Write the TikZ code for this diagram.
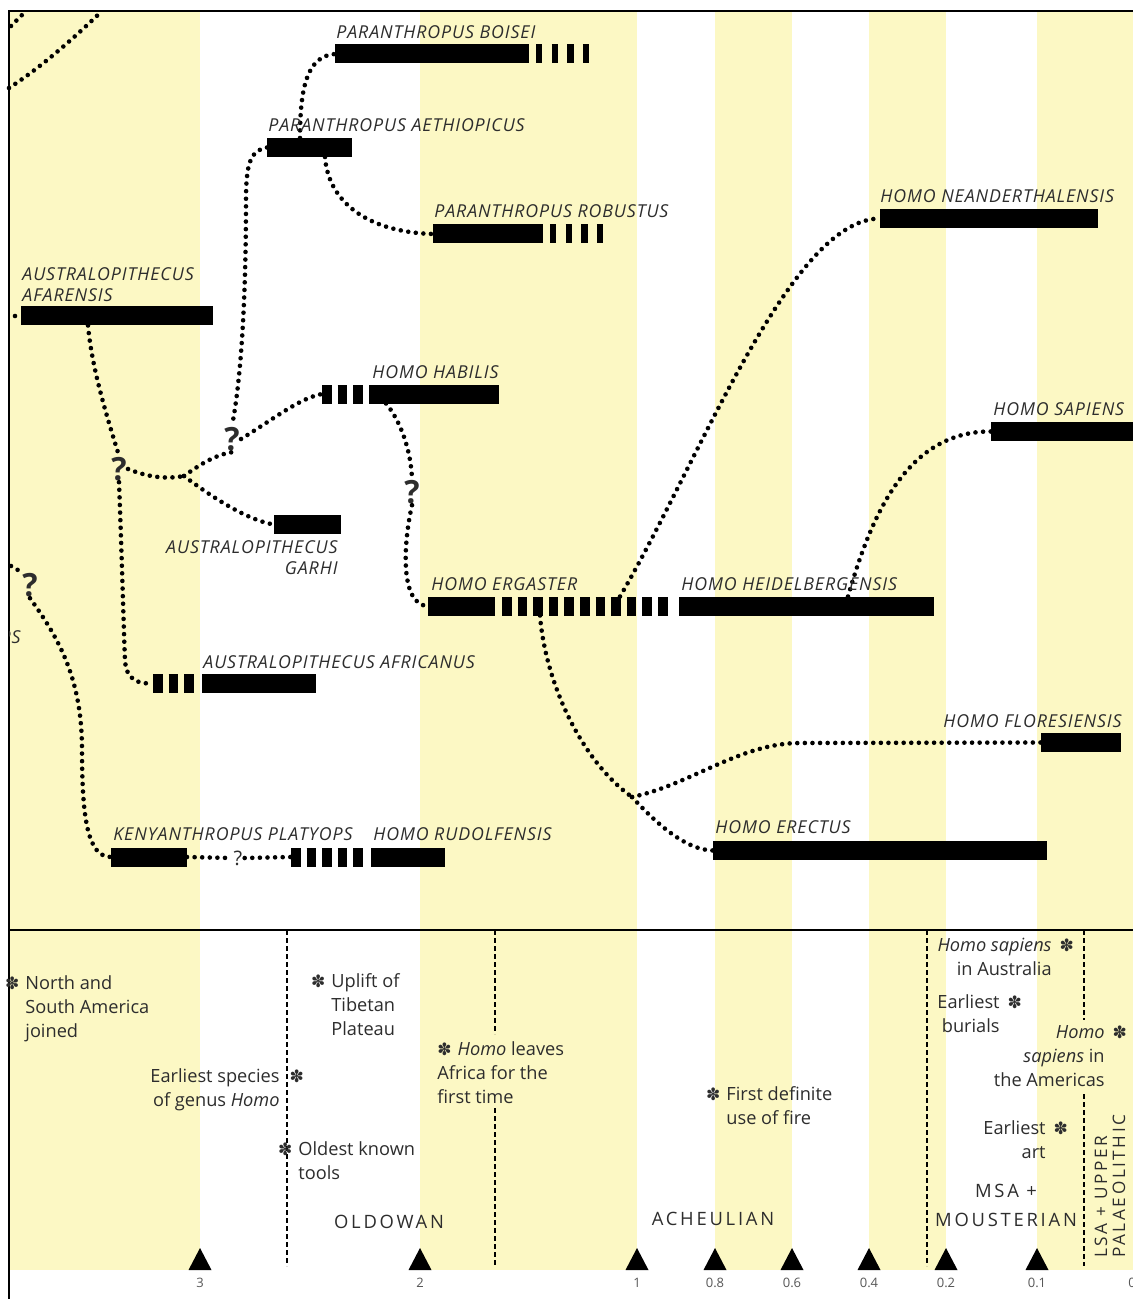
\documentclass[tikz,border=0pt]{standalone}
\usepackage{fontspec}
\setmainfont{Open Sans}
\newfontfamily\symfont{DejaVu Sans}
\newfontfamily\spacedfont[LetterSpace=15]{Open Sans}
\newfontfamily\lblfont[LetterSpace=5]{Open Sans}
\usetikzlibrary{calc}
\definecolor{bandyellow}{RGB}{252,248,196}
\definecolor{ink}{RGB}{45,45,45}
\newcommand{\astk}{{\symfont\fontsize{8.5}{8.5}\selectfont\textcolor{ink}{✽}}}

\begin{document}
\begin{tikzpicture}[x=0.5pt, y=-0.5pt,
    bar/.style={fill=black, inner sep=0pt, outer sep=0pt, minimum height=9.5pt, minimum width=#1*0.5pt, anchor=west},
    fuzz/.style={line width=9.5pt, dash pattern=on 4.8pt off 3pt},
    thinfuzz/.style={line width=9.5pt, dash pattern=on 3.2pt off 4.6pt},
    dots/.style={line width=2.3pt, line cap=round, dash pattern=on 0pt off 3.8pt},
    lbl/.style={font=\lblfont\itshape\fontsize{8.9}{10.5}\selectfont, text=ink, inner sep=0pt, anchor=base west},
    qmark/.style={font=\fontsize{16}{16}\selectfont\bfseries, text=ink, inner sep=0.5pt},
    note/.style={font=\fontsize{9.1}{12}\selectfont, text=ink, inner sep=0pt, align=left, anchor=north west},
    era/.style={font=\spacedfont\fontsize{9.2}{14.5}\selectfont, text=ink, inner sep=0pt, align=center},
    ticklbl/.style={font=\fontsize{6.5}{7}\selectfont, text=ink!80, inner sep=0pt},
    boundary/.style={line width=0.8pt, dash pattern=on 2.4pt off 1.6pt}
  ]
  \useasboundingbox (0,0) rectangle (1133,1299);
  \fill[white] (0,0) rectangle (1133,1299);

  % time bands
  \foreach \a/\b in {9/200, 420/637, 715/792, 869/946, 1037/1133}
    \fill[bandyellow] (\a,11) rectangle (\b,1270);

  % frame and divider
  \draw[line width=1.1pt] (1133,11) -- (9,11) -- (9,1299);
  \draw[line width=1.1pt] (9,930) -- (1133,930);

  % industry boundaries
  \draw[boundary] (287,930) -- (287,1266);
  \draw[boundary] (495,930) -- (495,1034) (495,1108) -- (495,1266);
  \draw[boundary] (927,930) -- (927,1266);
  \draw[boundary] (1084,930) -- (1084,1020) (1084,1094) -- (1084,1266);

  % Species bars
  \node[bar=194] (boisei) at (335,54) {};
  \node[bar=85] (aeth) at (267,147.5) {};
  \node[bar=110] (robustus) at (433,234) {};
  \node[bar=218] (neand) at (880,218.5) {};
  \node[bar=150] (sapiens) at (991,431.5) {};
  \node[bar=192] (afar) at (21,316) {};
  \node[bar=130] (habilis) at (369,394) {};
  \node[bar=67] (garhi) at (274,524.5) {};
  \node[bar=67] (ergaster) at (428,606) {};
  \node[bar=255] (heidel) at (679,606) {};
  \node[bar=114] (africanus) at (202,683.5) {};
  \node[bar=80] (flores) at (1041,742.5) {};
  \node[bar=334] (erectus) at (713,850.5) {};
  \node[bar=76] (kenyan) at (111,857) {};
  \node[bar=74] (rudolf) at (371,857) {};

  % uncertain parts of the ranges
  \coordinate (habilisH) at (322,394);
  \coordinate (africanusH) at (153,683.5);
  \coordinate (rudolfH) at (291,857);
  \draw[thinfuzz] ($(boisei.east)+(7,0)$) -- ++(54,0);
  \draw[thinfuzz] ($(robustus.east)+(7,0)$) -- ++(55,0);
  \draw[fuzz] (habilisH) -- ++(41,0);
  \draw[fuzz] ($(ergaster.east)+(7,0)$) -- ++(169,0);
  \draw[fuzz] (africanusH) -- ++(41,0);
  \draw[fuzz] (rudolfH) -- ++(74,0);

  % Question marks and junctions
  \node[qmark] (q1) at (119,469) {?};
  \node[qmark] (q2) at (232,439) {?};
  \node[qmark] (q3) at (412,492) {?};
  \node[qmark] (q4) at (30,585) {?};
  \node[font=\fontsize{10}{10}\selectfont, text=ink, inner sep=1pt] (q5) at (238,858) {?};
  \coordinate (j1) at (184,476);
  \coordinate (j2) at (632,797);
  \coordinate (edgeA) at (9,88);
  \coordinate (edgeB) at (102,11);
  \coordinate (edgeC) at (11,26);
  \coordinate (edgeD) at (25,12);
  \coordinate (edgeE) at (15,316);
  \coordinate (edgeF) at (11,566);

  % Lineages
  \draw[dots] (edgeA) .. controls (40,68) and (72,40) .. (edgeB);
  \draw[dots] (edgeC) -- (edgeD);
  \draw[dots] (edgeE) -- (afar.west);
  \draw[dots] ($(afar.south west)+(67,0)$) .. controls (92,370) and (108,420) .. (q1.north);
  \draw[dots] (q1.east) .. controls (150,478) and (168,479) .. (j1);
  \draw[dots] (j1) .. controls (198,466) and (214,455) .. (q2.south);
  \draw[dots] (q2.east) .. controls (275,418) and (300,398) .. (habilisH);
  \draw[dots] (aeth.west) .. controls (250,150) and (246,165) .. (246,200)
    .. controls (246,300) and (241,380) .. (q2.north);
  \draw[dots] (j1) .. controls (205,492) and (245,520) .. (garhi.west);
  \draw[dots] (q1.south) .. controls (122,560) and (124,640) .. (125,660)
    .. controls (126,680) and (138,684) .. (africanusH);
  \draw[dots] ($(aeth.north west)+(33,0)$) .. controls (300,85) and (308,56) .. (boisei.west);
  \draw[dots] ($(aeth.south west)+(58,0)$) .. controls (328,200) and (365,232) .. (robustus.west);
  \draw[dots] ($(habilis.south west)+(17,0)$) .. controls (400,420) and (411,450) .. (q3.north);
  \draw[dots] (q3.south) .. controls (403,545) and (400,605) .. (ergaster.west);
  \draw[dots] ($(ergaster.north east)+(125,0)$) .. controls (700,460) and (790,219) .. (neand.west);
  \draw[dots] ($(heidel.north west)+(169,0)$) .. controls (870,520) and (905,431) .. (sapiens.west);
  \draw[dots] ($(ergaster.south west)+(112,0)$) .. controls (545,680) and (580,760) .. (j2);
  \draw[dots] (j2) .. controls (690,785) and (740,743) .. (800,743) -- (flores.west);
  \draw[dots] (j2) .. controls (655,822) and (685,850) .. (erectus.west);
  \draw[dots] (edgeF) -- (q4.north west);
  \draw[dots] (q4.south) .. controls (60,640) and (82,680) .. (82,750)
    .. controls (82,820) and (88,857) .. (kenyan.west);
  \draw[dots] (kenyan.east) -- (q5.west);
  \draw[dots] (q5.east) -- (rudolfH);

  % Species names
  \node[lbl] (boiseiL) at (336,39) {PARANTHROPUS BOISEI};
  \node[lbl] (aethL) at (268,132) {PARANTHROPUS AETHIOPICUS};
  \node[lbl] (robustusL) at (434,218) {PARANTHROPUS ROBUSTUS};
  \node[lbl] (neandL) at (880,203) {HOMO NEANDERTHALENSIS};
  \node[lbl] (sapiensL) at (993,415) {HOMO SAPIENS};
  \node[lbl, anchor=north west, align=left] (afarL) at (22,267) {AUSTRALOPITHECUS\\AFARENSIS};
  \node[lbl] (habilisL) at (372,378) {HOMO HABILIS};
  \node[lbl, anchor=north east, align=right] (garhiL) at (338,540) {AUSTRALOPITHECUS\\GARHI};
  \node[lbl] (ergasterL) at (431,590) {HOMO ERGASTER};
  \node[lbl] (heidelL) at (681,590) {HOMO HEIDELBERGENSIS};
  \node[lbl] (africanusL) at (203,668) {AUSTRALOPITHECUS AFRICANUS};
  \node[lbl, anchor=base east] (floresL) at (1122,727) {HOMO FLORESIENSIS};
  \node[lbl] (erectusL) at (715,833) {HOMO ERECTUS};
  \node[lbl] (kenyanL) at (113,840) {KENYANTHROPUS PLATYOPS};
  \node[lbl] (rudolfL) at (373,840) {HOMO RUDOLFENSIS};
  \begin{scope}
    \clip (9,11) rectangle (1133,930);
    \node[lbl, anchor=base east] (cutL) at (21,643) {PS};
  \end{scope}

  % Events
  \node[note] (americas) at (25,975) {\llap{\astk\hspace{3pt}}North and\\South America\\joined};
  \node[note] (tibet) at (331,973) {\llap{\astk\hspace{3pt}}Uplift of\\Tibetan\\Plateau};
  \node[note, anchor=north east, align=right] (earlyhomo) at (280,1068) {Earliest species\rlap{\hspace{5pt}\astk}\\of genus \textit{Homo}};
  \node[note] (tools) at (298,1141) {\llap{\astk\hspace{3pt}}Oldest known\\tools};
  \node[note] (leaves) at (437,1041) {\astk\hspace{3pt}\textit{Homo} leaves\\Africa for the\\first time};
  \node[note] (fire) at (726,1086) {\llap{\astk\hspace{3pt}}First definite\\use of fire};
  \node[note, anchor=north east, align=right] (australia) at (1052,938) {\textit{Homo sapiens}\rlap{\hspace{4pt}\astk}\\in Australia};
  \node[note, anchor=north east, align=right] (burials) at (1000,994) {Earliest\rlap{\hspace{4pt}\astk}\\burials};
  \node[note, anchor=north east, align=right] (newworld) at (1105,1025) {\textit{Homo}\rlap{\hspace{4pt}\astk}\\\textit{sapiens} in\\the Americas};
  \node[note, anchor=north east, align=right] (art) at (1046,1120) {Earliest\rlap{\hspace{4pt}\astk}\\art};

  % Industries
  \node[era] (oldowan) at (389,1222) {OLDOWAN};
  \node[era] (acheulian) at (713,1219) {ACHEULIAN};
  \node[era] (mousterian) at (1006,1205) {MSA +\\MOUSTERIAN};
  \node[era, rotate=90, anchor=west, align=left, font=\spacedfont\fontsize{8.6}{9}\selectfont] (upper) at (1110,1258) {LSA + UPPER\\PALAEOLITHIC};

  % Time axis (million years ago)
  \foreach \x/\t [count=\i] in {200/3, 420/2, 637/1, 715/0.8, 792/0.6, 869/0.4, 946/0.2, 1037/0.1} {
    \fill (\x-11.5,1270) -- (\x,1248) -- (\x+11.5,1270) -- cycle;
    \node[ticklbl] (tick\i) at (\x,1283) {\t};
  }
  \node[ticklbl] (tick9) at (1132,1283) {0};
\end{tikzpicture}
\end{document}
